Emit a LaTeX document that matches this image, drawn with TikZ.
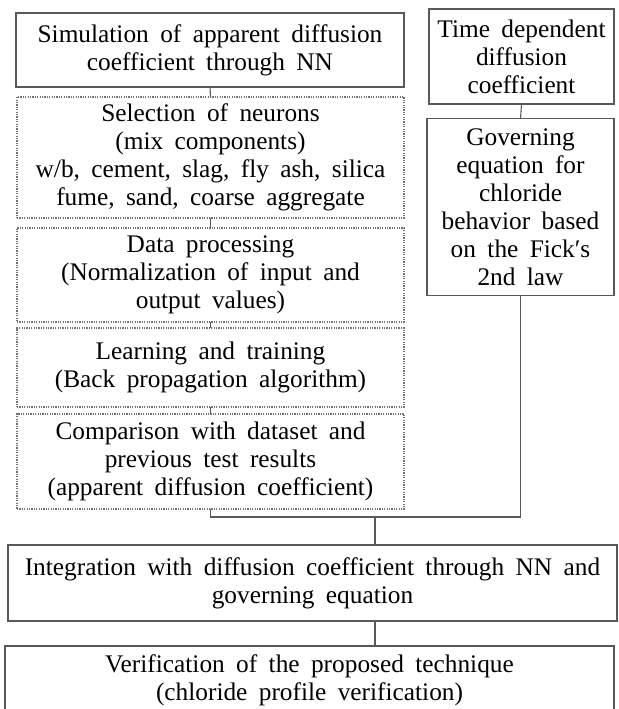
\documentclass[tikz,border=0pt]{standalone}
\usepackage{fontspec}
\setmainfont{Liberation Serif}[WordSpace=1.8]
\tikzset{
  stagebox/.style={draw=black!65,line width=0.8pt,inner sep=0pt,outer sep=0pt,align=center,
    font=\fontsize{19}{21}\selectfont},
  dotbox/.style={stagebox,draw=black!55,dash pattern=on 0.9pt off 0.9pt},
  link/.style={draw=black!65,line width=0.8pt}
}
\begin{document}
\begin{tikzpicture}[x=0.75pt,y=-0.75pt]
    \useasboundingbox (0,0) rectangle (618,709);
    %% Left column
    \node[stagebox,minimum width=388*0.75pt,minimum height=74*0.75pt] (sim) at (210,50) {Simulation of apparent diffusion\\coefficient through NN};
    \node[dotbox,minimum width=387*0.75pt,minimum height=121*0.75pt] (sel) at (210.5,157.5) {Selection of neurons\\(mix components)\\w/b, cement, slag, fly ash, silica\\fume, sand, coarse aggregate};
    \node[dotbox,minimum width=387*0.75pt,minimum height=94*0.75pt] (proc) at (210.5,275) {Data processing\\(Normalization of input and\\output values)};
    \node[dotbox,minimum width=387*0.75pt,minimum height=79*0.75pt] (learn) at (210.5,367.5) {Learning and training\\(Back propagation algorithm)};
    \node[dotbox,minimum width=387*0.75pt,minimum height=95*0.75pt] (comp) at (210.5,461.5) {Comparison with dataset and\\previous test results\\(apparent diffusion coefficient)};
    %% Right column
    \node[stagebox,minimum width=185*0.75pt,minimum height=95*0.75pt] (time) at (521.5,56.5) {Time dependent\\diffusion\\coefficient};
    \node[stagebox,minimum width=187*0.75pt,minimum height=177*0.75pt] (gov) at (520.5,207) {Governing\\equation for\\chloride\\behavior based\\on the Fick{\char"2032}s\\2nd law};
    %% Bottom row
    \node[stagebox,minimum width=609*0.75pt,minimum height=76*0.75pt] (integ) at (312.5,583) {Integration with diffusion coefficient through NN and\\governing equation};
    \node[stagebox,minimum width=609*0.75pt,minimum height=68*0.75pt] (verif) at (309.5,680) {Verification of the proposed technique\\(chloride profile verification)};
    %% Links
    \coordinate (merge) at (375,517);
    \draw[link] (sim.south) -- (sel.north);
    \draw[link] (sel.south) -- (proc.north);
    \draw[link] (proc.south) -- (learn.north);
    \draw[link] (learn.south) -- (comp.north);
    \draw[link] (time.south) -- (gov.north);
    \draw[link] (comp.south) |- (merge) -| (gov.south);
    \draw[link] (merge) -- (integ.north -| merge);
    \draw[link] (integ.south -| merge) -- (verif.north -| merge);
\end{tikzpicture}
\end{document}
